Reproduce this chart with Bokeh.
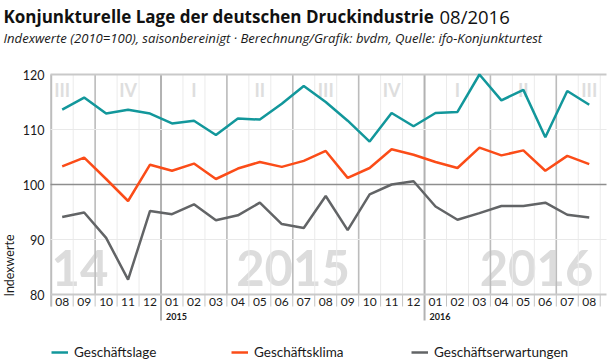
from bokeh.plotting import figure
from bokeh.models import Range1d, Legend, LegendItem
from bokeh.core.properties import value
from bokeh.embed import file_html
from bokeh.resources import INLINE

# ---------------- data ----------------
months = ["08", "09", "10", "11", "12",
          "01", "02", "03", "04", "05", "06", "07", "08", "09", "10", "11", "12",
          "01", "02", "03", "04", "05", "06", "07", "08"]
year_names = ["2015", "2016"]
big_years = ["14", "2015", "2016"]
roman = ["I", "II", "III", "IV"]
y_ticks = [80, 90, 100, 110, 120]

geschaeftslage = [113.6, 115.8, 112.9, 113.6, 112.9, 111.1, 111.6, 109.0, 112.0, 111.8,
                  114.7, 117.9, 115.0, 111.6, 107.8, 113.0, 110.6, 113.0, 113.2, 120.0,
                  115.3, 117.2, 108.6, 117.0, 114.5]
geschaeftsklima = [103.3, 104.9, 101.0, 97.0, 103.6, 102.5, 103.8, 101.0, 102.9, 104.1,
                   103.2, 104.3, 106.1, 101.2, 103.0, 106.4, 105.4, 104.1, 103.0, 106.7,
                   105.3, 106.2, 102.5, 105.2, 103.7]
geschaeftserwartungen = [94.1, 94.9, 90.3, 82.7, 95.2, 94.6, 96.4, 93.5, 94.4, 96.7,
                         92.8, 92.1, 97.9, 91.7, 98.2, 100.0, 100.6, 96.0, 93.6, 94.8,
                         96.1, 96.1, 96.7, 94.5, 94.0]

# ---------------- geometry helpers (canvas px -> data) ----------------
W, H = 610, 362
X_FIRST, X_STEP = 61.7, 21.96
Y100, Y_STEP = 184.0, 5.5


def px_x(cx):
    return (cx - X_FIRST) / X_STEP


def px_y(cy):
    return 100 + (Y100 - cy) / Y_STEP


FONT = "Lato"
TFONT = "Open Sans"
TEAL, ORANGE, GRAY = "#12979b", "#fb4c18", "#626466"
INK = "#1a1a1a"

idx = list(range(len(months)))
x0, x1 = px_x(50), px_x(606)
p = figure(width=W, height=H, output_backend="svg", toolbar_location=None,
           x_range=Range1d(px_x(0), px_x(W)), y_range=Range1d(px_y(H), px_y(0)),
           x_axis_type=None, y_axis_type=None,
           min_border_left=0, min_border_right=0, min_border_top=0, min_border_bottom=0)
p.outline_line_color = None
p.grid.visible = False
p.background_fill_color = "white"

# big year labels (background)
p.text(x=[px_x(51), px_x(292.5), px_x(536)], y=[px_y(267)] * 3, text=big_years,
       text_font=value(FONT), text_font_style="bold", text_font_size="49px",
       text_color="#dcdcdc", text_align=["left", "center", "center"],
       text_baseline="middle")

# quarter labels (background)
q_x, q_t = [], []
for i, m in enumerate(months):
    mm = int(m)
    if mm % 3 == 2:
        q_x.append(i)
        q_t.append(roman[(mm - 1) // 3])
p.text(x=q_x, y=[px_y(89)] * len(q_x), text=q_t, text_font=value(FONT),
       text_font_style="bold", text_font_size="18px", text_color="#dedede",
       text_align="center", text_baseline="middle")

# month grid lines
sep = [i - 0.5 for i in range(len(months) + 1)]
p.segment(x0=sep, y0=[80] * len(sep), x1=sep, y1=[120] * len(sep),
          line_color="#ebebeb", line_width=1)
p.segment(x0=sep, y0=[px_y(306)] * len(sep), x1=sep, y1=[80] * len(sep),
          line_color="#c4c4c4", line_width=1)
# quarter boundaries
qb = [i - 0.5 for i, m in enumerate(months) if m in ("04", "07", "10")]
p.segment(x0=qb, y0=[80] * len(qb), x1=qb, y1=[120] * len(qb),
          line_color="#bcbcbc", line_width=1.6)
# year boundaries
yb = [i - 0.5 for i, m in enumerate(months) if m == "01"]
p.segment(x0=yb, y0=[px_y(320)] * len(yb), x1=yb, y1=[120] * len(yb),
          line_color="#b2b2b2", line_width=2)
# left edge
p.segment(x0=[-0.5], y0=[px_y(306)], x1=[-0.5], y1=[120],
          line_color="#bdbdbd", line_width=2)

# horizontal lines
p.segment(x0=[x0] * 2, y0=[110, 90], x1=[x1] * 2, y1=[110, 90],
          line_color="#e9e9e9", line_width=1)
p.segment(x0=[x0] * 2, y0=[120, 80], x1=[x1] * 2, y1=[120, 80],
          line_color="#c9c9c9", line_width=2)
p.segment(x0=[x0], y0=[100], x1=[x1], y1=[100],
          line_color="#8e8e8e", line_width=1.5)

# y tick labels
p.text(x=[px_x(44)] * len(y_ticks), y=y_ticks, text=[str(t) for t in y_ticks],
       text_font=value(FONT), text_font_size="12.5px", text_color=INK,
       text_align="right", text_baseline="middle")
# y axis title
p.text(x=[px_x(9)], y=[px_y(265)], text=["Indexwerte"], angle=90, angle_units="deg",
       text_font=value(FONT), text_font_size="12.5px", text_color=INK,
       text_align="center", text_baseline="middle")

# month tick labels
p.text(x=idx, y=[px_y(301.7)] * len(idx), text=months, text_font=value(FONT),
       text_font_size="12px", text_color=INK, text_align="center",
       text_baseline="middle")
# year tick labels
p.text(x=[i - 0.5 + px_x(165) - px_x(160) for i in range(len(months)) if months[i] == "01"],
       y=[px_y(316)] * len(year_names), text=year_names, text_font=value(FONT),
       text_font_style="bold", text_font_size="9px", text_color=INK,
       text_align="left", text_baseline="middle")

# titles
p.text(x=[px_x(3)], y=[px_y(16)], text=["Konjunkturelle Lage der deutschen Druckindustrie"],
       text_font=value(TFONT), text_font_style="bold", text_font_size="17px",
       text_color="#111111", text_baseline="alphabetic")
p.text(x=[px_x(439)], y=[px_y(16)], text=["08/2016"],
       text_font=value(TFONT), text_font_size="18.5px",
       text_color="#111111", text_baseline="alphabetic")
p.text(x=[px_x(3)], y=[px_y(37)],
       text=["Indexwerte (2010=100), saisonbereinigt  ·  Berechnung/Grafik: bvdm, Quelle: ifo-Konjunkturtest"],
       text_font=value(TFONT), text_font_style="italic", text_font_size="13.1px",
       text_color=INK, text_baseline="alphabetic")

# data lines
r1 = p.line(idx, geschaeftslage, line_color=TEAL, line_width=2.5)
r2 = p.line(idx, geschaeftsklima, line_color=ORANGE, line_width=2.5)
r3 = p.line(idx, geschaeftserwartungen, line_color=GRAY, line_width=2.5)

legend = Legend(items=[LegendItem(label="Geschäftslage", renderers=[r1]),
                       LegendItem(label="Geschäftsklima", renderers=[r2]),
                       LegendItem(label="Geschäftserwartungen", renderers=[r3])],
                orientation="horizontal", location=(51, 2))
legend.border_line_color = None
legend.background_fill_alpha = 0
legend.padding = 0
legend.margin = 0
legend.spacing = 29
legend.glyph_width = 17
legend.glyph_height = 14
legend.label_height = 14
legend.label_width = 128
legend.label_standoff = 6
legend.label_text_font = FONT
legend.label_text_font_size = "13.5px"
legend.label_text_color = INK
legend.label_text_baseline = "middle"
p.add_layout(legend)

open("out.html", "w").write(file_html(p, INLINE))
